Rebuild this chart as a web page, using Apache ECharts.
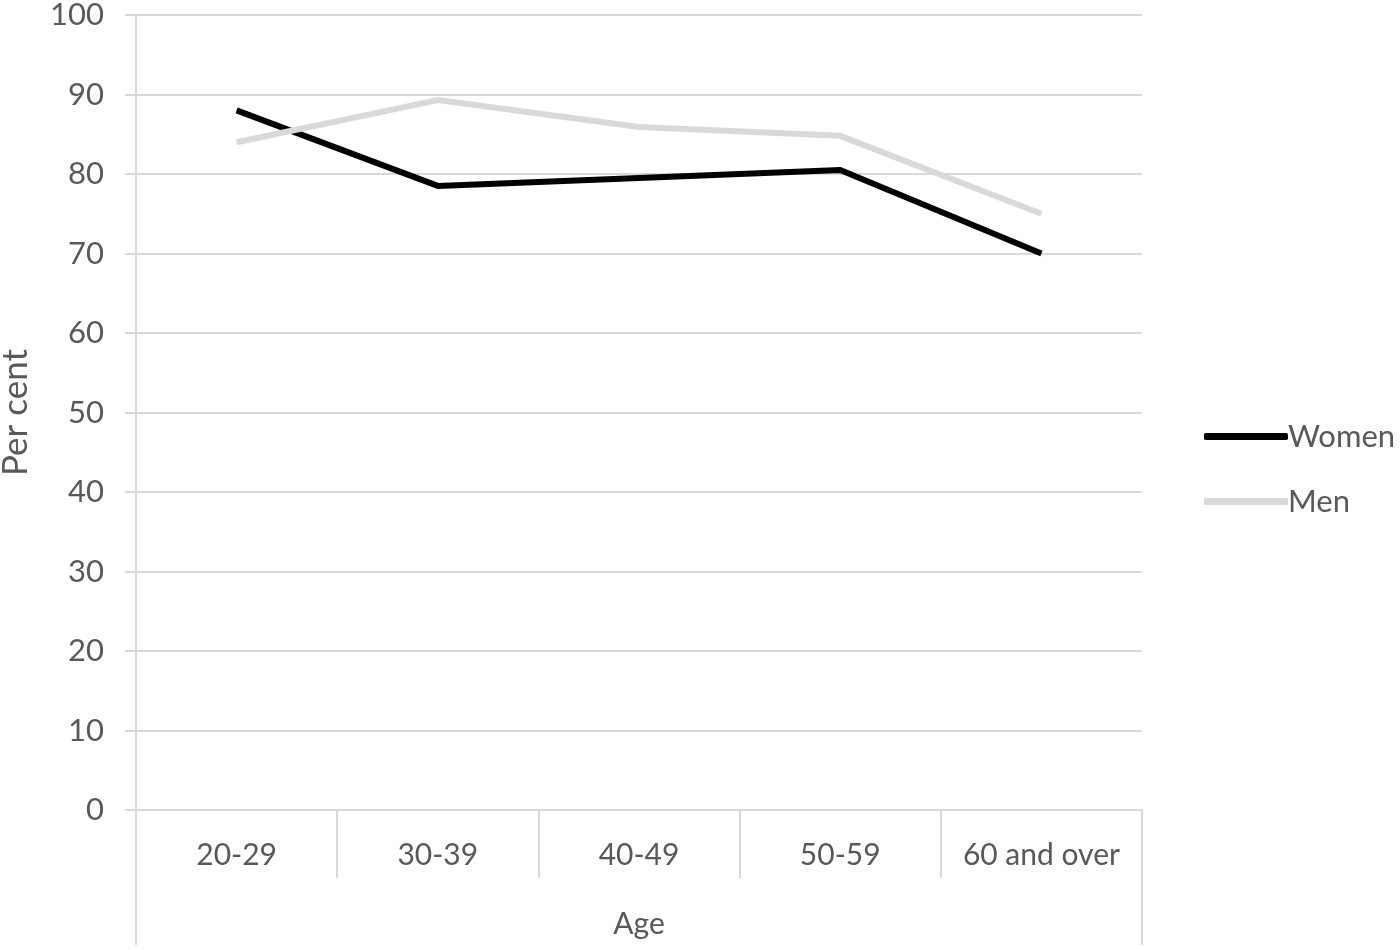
<!DOCTYPE html>
<html><head><meta charset="utf-8">
<script src="https://cdn.jsdelivr.net/npm/echarts@6/dist/echarts.min.js"></script>
<style>html,body{margin:0;padding:0;background:#fff}#c{width:1400px;height:950px}</style>
</head><body><div id="c"></div>
<script>
const categories = ['20-29', '30-39', '40-49', '50-59', '60 and over'];
const women = [88, 78.5, 79.5, 80.5, 70];
const men = [84, 89.3, 85.9, 84.8, 75];
const yTicks = [0, 10, 20, 30, 40, 50, 60, 70, 80, 90, 100];

const FONT = 'Lato';
const TXT = '#595959';
const GRID = '#d9d9d9';
const chart = echarts.init(document.getElementById('c'));
chart.setOption({
  animation: false,
  textStyle: { fontFamily: FONT },
  grid: { left: 136, right: 258, top: 15, bottom: 140, containLabel: false, outerBoundsMode: 'none' },
  legend: {
    orient: 'vertical', left: 1199, top: 416, itemWidth: 84, itemHeight: 7, itemGap: 34,
    textStyle: { fontFamily: FONT, fontSize: 31, color: TXT, padding: [0, 0, 0, -5] },
    icon: 'roundRect',
    data: [
      { name: 'Women', itemStyle: { color: '#000000' } },
      { name: 'Men', itemStyle: { color: '#d9d9d9' } }
    ]
  },
  xAxis: [{
    type: 'category', data: categories, boundaryGap: true, position: 'bottom',
    axisLine: { lineStyle: { color: GRID, width: 2 } },
    axisTick: { show: true, interval: 0, length: 68, lineStyle: { color: GRID, width: 2 } },
    axisLabel: { interval: 0, fontSize: 30, color: TXT, margin: 30, fontFamily: FONT }
  }, {
    type: 'category', data: ['Age'], position: 'bottom', gridIndex: 0,
    axisLine: { show: false },
    axisTick: { show: true, length: 135, lineStyle: { color: GRID, width: 2 } },
    axisLabel: { fontSize: 30, color: TXT, margin: 99, fontFamily: FONT }
  }],
  yAxis: {
    type: 'value', min: 0, max: 100, interval: 10,
    name: 'Per cent', nameLocation: 'middle', nameGap: 103,
    nameTextStyle: { fontSize: 35, color: TXT, fontFamily: FONT },
    axisLine: { show: true, lineStyle: { color: GRID, width: 2 } },
    axisTick: { show: true, length: 11, lineStyle: { color: GRID, width: 2 } },
    axisLabel: { fontSize: 31, color: TXT, margin: 32, fontFamily: FONT,
      formatter: v => yTicks.includes(v) ? String(v) : '' },
    splitLine: { lineStyle: { color: GRID, width: 2 } }
  },
  series: [
    { name: 'Women', type: 'line', data: women, symbol: 'none', smooth: false,
      lineStyle: { color: '#000000', width: 6 }, itemStyle: { color: '#000000' } },
    { name: 'Men', type: 'line', data: men, symbol: 'none', smooth: false,
      lineStyle: { color: '#d9d9d9', width: 6 }, itemStyle: { color: '#d9d9d9' } }
  ]
});
</script></body></html>
